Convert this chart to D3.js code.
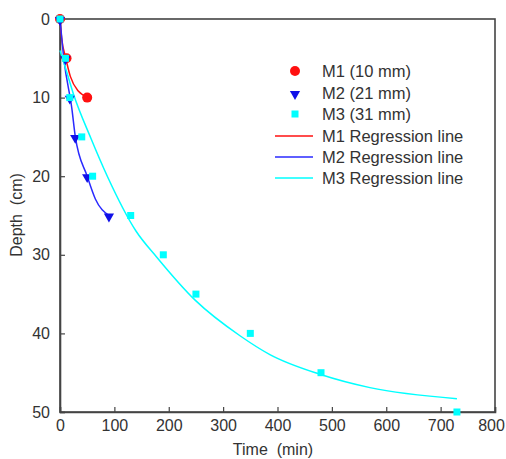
<!DOCTYPE html>
<html>
<head>
<meta charset="utf-8">
<script src="https://cdn.jsdelivr.net/npm/d3@7"></script>
<style>
  body { margin: 0; background: #fff; }
  text { font-family: "Liberation Sans", Arial, sans-serif; fill: #333; }
</style>
</head>
<body>
<div id="chart-area"></div>
<script>
// measured points (time in min, depth in cm)
var m1Time = [0, 12, 50];
var m1Depth = [0, 5, 10];
var m2Time = [0, 10, 18, 28, 50, 90];
var m2Depth = [0, 5, 10, 15, 20, 25];
var m3Time = [0, 10, 18, 40, 60, 130, 190, 250, 350, 480, 730];
var m3Depth = [0, 5, 10, 15, 20, 25, 30, 35, 40, 45, 50];

// regression lines
var r1Time = [0, 3, 10, 19, 34, 50];
var r1Depth = [0, 2.4, 4.8, 7.3, 9.2, 9.9];
var r2Time = [0, 7, 22, 28, 50, 65, 90];
var r2Depth = [0, 5, 11.5, 14.9, 20, 22.9, 25];
var r3Time = [0, 10, 25, 57, 87, 140, 178, 249, 331, 386, 478, 570, 730];
var r3Depth = [4, 6.2, 9.6, 15.2, 20, 27, 30.3, 35.8, 40.3, 42.7, 45.2, 46.9, 48.3];

var xTicks = [0, 100, 200, 300, 400, 500, 600, 700, 800];
var yTicks = [0, 10, 20, 30, 40, 50];

var legendNames = ["M1 (10 mm)", "M2 (21 mm)", "M3 (31 mm)",
  "M1 Regression line", "M2 Regression line", "M3 Regression line"];

var red = "#ff1010", blue = "#1010e8", lineBlue = "#2a2aff", cyan = "#00ffff";

var margin = {left: 60, right: 11, top: 19, bottom: 47};
var width = 506 - margin.left - margin.right;
var height = 459 - margin.top - margin.bottom;

var svg = d3.select('#chart-area')
  .append('svg')
  .attr('width', 506)
  .attr('height', 459);

var g = svg.append('g')
  .attr('transform', 'translate(' + margin.left + ',' + margin.top + ')');

var x = d3.scaleLinear().domain([0, 800]).range([0, width]);
var y = d3.scaleLinear().domain([0, 50]).range([0, height]);

function zip(a, b) { return a.map((v, i) => ({t: v, d: b[i]})); }

// frame
g.append('rect')
  .attr('width', width)
  .attr('height', height)
  .attr('fill', 'none')
  .attr('stroke', '#444')
  .attr('stroke-width', 1.6);

var xAxis = d3.axisBottom(x).tickValues(xTicks).tickSize(-5).tickPadding(8);
var yAxis = d3.axisLeft(y).tickValues(yTicks).tickSize(-5).tickPadding(10);

var gx = g.append('g')
  .attr('transform', 'translate(0,' + height + ')')
  .call(xAxis);
var gy = g.append('g').call(yAxis);

[gx, gy].forEach((a) => {
  a.select('.domain').attr('stroke', '#444').attr('stroke-width', 1.6);
  a.selectAll('line').attr('stroke', '#444').attr('stroke-width', 1.2);
  a.selectAll('text').attr('font-size', '16px').attr('fill', '#333')
    .style('font-family', '"Liberation Sans", Arial, sans-serif');
});
// keep the last label inside the window
gx.selectAll('.tick text').filter((d) => d === 800).attr('dx', -4);

// regression lines
var line = d3.line()
  .x((d) => x(d.t))
  .y((d) => y(d.d))
  .curve(d3.curveMonotoneX);

[[r1Time, r1Depth, red], [r2Time, r2Depth, lineBlue], [r3Time, r3Depth, cyan]]
  .forEach((s) => {
    g.append('path')
      .datum(zip(s[0], s[1]))
      .attr('d', line)
      .attr('fill', 'none')
      .attr('stroke', s[2])
      .attr('stroke-width', 1.5);
  });

// markers
g.selectAll('.m1').data(zip(m1Time, m1Depth)).enter()
  .append('circle')
  .attr('cx', (d) => x(d.t))
  .attr('cy', (d) => y(d.d))
  .attr('r', 5)
  .attr('fill', red);

var tri = d3.symbol().type(d3.symbolTriangle).size(45);
g.selectAll('.m2').data(zip(m2Time, m2Depth)).enter()
  .append('path')
  .attr('d', tri)
  .attr('transform', (d) => 'translate(' + x(d.t) + ',' + (y(d.d) + 1) + ') rotate(180)')
  .attr('fill', blue);

g.selectAll('.m3').data(zip(m3Time, m3Depth)).enter()
  .append('rect')
  .attr('x', (d) => x(d.t) - 3.5)
  .attr('y', (d) => y(d.d) - 3.5)
  .attr('width', 7)
  .attr('height', 7)
  .attr('fill', cyan);

// legend
var legend = svg.append('g');
var rowY = [71, 93, 114, 136, 157, 178];
legendNames.forEach((name, i) => {
  var ly = rowY[i];
  if (i === 0) {
    legend.append('circle').attr('cx', 295).attr('cy', ly).attr('r', 5).attr('fill', red);
  } else if (i === 1) {
    legend.append('path').attr('d', tri)
      .attr('transform', 'translate(295,' + (ly + 1) + ') rotate(180)').attr('fill', blue);
  } else if (i === 2) {
    legend.append('rect').attr('x', 291.5).attr('y', ly - 3.5)
      .attr('width', 7).attr('height', 7).attr('fill', cyan);
  } else {
    legend.append('line')
      .attr('x1', 275).attr('x2', 313)
      .attr('y1', ly).attr('y2', ly)
      .attr('stroke', [red, lineBlue, cyan][i - 3])
      .attr('stroke-width', 1.5);
  }
  legend.append('text')
    .attr('x', 322)
    .attr('y', ly + 6)
    .attr('font-size', '16.5px')
    .text(name);
});

// axis titles
svg.append('text')
  .attr('x', 273)
  .attr('y', 455)
  .attr('font-size', '16px')
  .attr('text-anchor', 'middle')
  .style('white-space', 'pre')
  .text('Time  (min)');

svg.append('text')
  .attr('transform', 'translate(22,215) rotate(-90)')
  .attr('font-size', '16px')
  .attr('text-anchor', 'middle')
  .style('white-space', 'pre')
  .text('Depth  (cm)');
</script>
</body>
</html>
